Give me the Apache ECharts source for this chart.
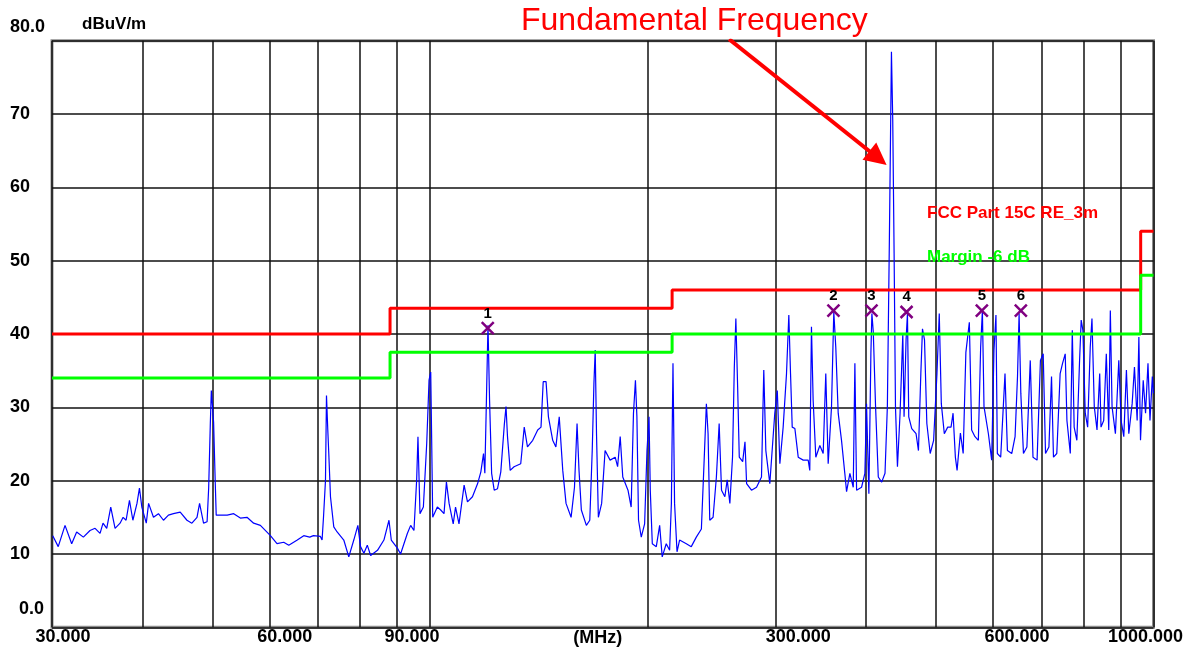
<!DOCTYPE html>
<html><head><meta charset="utf-8">
<script src="https://cdn.jsdelivr.net/npm/echarts@6/dist/echarts.min.js"></script>
<style>html,body{margin:0;padding:0;background:#fff}#c{width:1194px;height:653px}</style>
</head><body><div id="c"></div>
<script>
// ---- measured trace (frequency in MHz, level in dBuV/m) ----
const traceFreq = [30.07,30.6,31.27,31.94,32.45,33.15,33.86,34.41,34.96,35.29,35.71,36.17,36.67,37.26,37.62,37.98,38.39,38.81,39.32,39.63,39.93,40.5,40.8,41.44,42.1,42.78,43.46,44.16,45.12,46.1,46.83,47.6,47.99,48.6,49.15,49.4,49.66,49.82,50.08,50.18,50.45,50.6,52.4,53.5,54.64,55.81,57.0,58.24,60.13,61.4,62.73,63.75,65.5,66.86,68.15,68.96,70.5,70.88,71.2,71.65,71.88,72.18,72.41,72.8,73.57,74.36,75.95,77.17,78.41,79.43,80.11,80.97,81.85,82.73,84.55,86.3,87.7,88.35,90.08,91.0,92.98,93.97,94.96,95.78,96.18,96.8,97.85,98.9,99.63,100.17,100.5,100.8,102.3,103.4,104.5,105.3,106.2,107.6,108.4,109.6,111.4,112.6,114.4,116.3,117.5,118.5,119.0,119.6,120.2,120.8,121.6,122.6,123.9,125.2,126.6,127.3,127.9,129.0,130.6,133.4,134.9,136.3,138.6,140.8,142.3,143.3,144.6,145.7,147.7,149.2,150.8,152.5,154.1,156.6,158.3,159.6,160.6,161.8,164.4,166.2,167.5,168.4,169.1,169.8,170.8,172.6,174.5,177.3,180.2,181.6,183.1,184.6,187.7,189.6,191.0,192.2,193.1,194.1,195.8,197.9,199.4,200.7,201.5,202.8,205.4,207.6,209.3,212.0,214.3,215.5,216.6,217.7,219.4,221.2,226.0,229.6,233.3,237.1,239.2,240.9,242.2,243.5,246.1,248.7,250.9,252.8,255.5,257.4,259.6,261.8,263.3,264.6,266.1,267.5,270.4,272.4,273.8,278.1,282.6,287.1,289.2,291.1,294.8,299.5,301.9,304.4,307.6,310.9,313.2,314.9,316.6,319.3,322.7,327.9,333.1,334.8,336.6,338.4,341.3,345.7,349.4,352.3,355.0,358.8,361.4,363.7,366.5,370.4,374.3,376.4,380.4,384.5,386.5,388.6,394.8,399.0,401.1,404.1,406.7,408.0,409.8,412.8,416.4,420.9,425.4,428.6,431.4,434.2,436.0,437.9,439.8,442.6,446.3,450.2,452.0,454.9,456.9,458.8,463.2,469.6,473.2,476.8,479.3,482.4,486.0,491.2,496.6,501.9,505.6,508.9,513.8,519.4,524.9,528.3,532.2,535.1,540.8,545.6,550.3,556.4,560.5,566.5,572.6,576.8,580.0,583.0,591.2,597.4,601.8,605.6,608.3,614.8,623.3,628.1,636.8,643.6,648.6,651.9,655.5,661.0,668.3,675.5,681.4,690.3,697.7,703.9,709.1,716.8,722.8,727.3,735.0,742.9,748.6,755.0,759.1,767.3,772.2,776.8,783.5,790.3,794.4,798.7,804.7,810.9,817.6,822.1,828.2,835.4,842.6,846.1,853.4,860.5,867.2,871.6,876.4,885.8,895.4,902.0,909.8,917.4,924.4,934.3,941.2,949.3,954.5,959.5,967.8,975.0,982.6,988.9,996.3,1000];
const traceLevel = [12.5,11.0,13.9,11.4,13.0,12.3,13.2,13.5,12.8,14.2,13.5,16.4,13.5,14.2,15.0,14.6,17.3,14.6,16.9,19.0,16.4,14.2,16.9,15.0,15.5,14.6,15.3,15.5,15.7,14.6,14.2,15.0,16.9,14.2,14.4,19.0,27.8,32.3,32.3,28.0,19.6,15.3,15.3,15.5,14.9,15.0,14.2,13.9,12.5,11.4,11.6,11.2,11.9,12.5,12.3,12.5,12.4,11.9,15.0,20.0,31.6,26.9,23.7,17.8,13.7,13.0,11.9,9.6,11.9,13.9,11.0,10.1,11.2,9.8,10.5,11.9,14.6,11.9,10.8,10.0,12.8,13.9,13.2,20.1,26.0,15.5,16.4,25.1,33.7,34.8,24.6,15.0,16.4,16.0,15.5,19.8,16.9,14.1,16.4,14.1,19.4,17.1,17.8,19.6,21.2,23.7,21.0,31.0,41.2,31.0,21.0,18.7,18.9,21.2,27.6,30.1,26.0,21.4,21.9,22.3,27.3,24.6,25.5,26.9,27.3,33.5,33.5,28.7,25.5,24.6,28.7,21.4,16.9,15.0,19.1,27.8,21.4,16.0,13.9,14.6,24.1,33.2,37.8,26.4,15.0,16.9,24.1,22.8,23.2,21.9,26.0,20.5,18.7,16.4,29.2,33.7,28.7,14.6,12.3,14.1,24.1,28.7,18.7,11.4,11.0,13.9,9.6,11.4,10.5,16.9,36.0,16.9,10.3,11.9,11.4,11.0,12.3,13.4,22.8,30.5,26.4,14.6,15.0,20.5,27.8,18.7,17.8,20.1,16.9,23.2,35.5,42.1,32.8,23.2,22.6,25.3,19.6,18.7,19.1,20.5,35.1,24.1,19.6,29.2,32.3,22.3,27.3,34.6,42.6,34.6,27.3,27.1,23.2,22.8,22.8,21.4,41.0,31.0,23.2,24.8,23.7,34.6,22.3,30.1,43.0,38.2,29.2,25.5,21.0,18.5,21.0,19.1,36.0,18.7,19.1,21.0,30.5,18.2,37.3,42.8,40.3,30.1,20.5,19.8,21.0,30.1,53.2,78.5,69.2,51.0,30.1,21.9,29.2,40.0,28.7,39.2,42.8,28.7,27.1,26.4,24.1,34.6,40.7,39.2,27.8,23.7,25.5,34.6,42.8,30.5,26.4,27.3,27.3,29.2,23.2,21.4,26.5,23.7,37.5,41.6,26.9,26.0,25.5,38.2,43.2,30.1,26.4,22.8,37.8,42.6,23.7,23.2,34.6,24.1,23.7,26.0,34.2,42.8,31.9,23.7,24.6,36.4,23.2,22.8,36.4,37.3,23.7,24.6,34.2,23.2,23.7,34.6,36.0,37.3,28.2,23.7,40.5,27.3,25.5,36.4,41.9,40.5,29.2,27.3,38.2,42.1,30.1,26.9,34.6,27.3,28.2,37.3,26.9,43.2,30.1,26.4,36.4,28.2,26.0,35.1,26.4,30.5,35.5,28.2,39.6,25.5,33.7,29.2,36.0,28.2,34.2,31.9];

// ---- limit lines ----
const limitFreq   = [30, 88, 88, 216, 216, 960, 960, 1000];
const limitLevel  = [40, 40, 43.5, 43.5, 46, 46, 54, 54];
const marginLevel = [34, 34, 37.5, 37.5, 40, 40, 48, 48];
const limitName = 'FCC Part 15C RE_3m';
const marginName = 'Margin -6 dB';

// ---- markers ----
const markerFreq  = [120.1, 361.0, 407.5, 455.6, 579.0, 655.5];
const markerLevel = [40.8, 43.2, 43.2, 43.0, 43.2, 43.2];
const markerLabels = ['1', '2', '3', '4', '5', '6'];

// ---- axes ----
const gridFreq = [30, 40, 50, 60, 70, 80, 90, 100, 200, 300, 400, 500, 600, 700, 800, 900, 1000];
const xTickFreq = [30, 60, 90, 300, 600, 1000];
const xTickLabels = ['30.000', '60.000', '90.000', '300.000', '600.000', '1000.000'];
const yTickValues = [0, 10, 20, 30, 40, 50, 60, 70, 80];
const yTickLabels = ['0.0', '10', '20', '30', '40', '50', '60', '70', '80.0'];
const xUnit = '(MHz)';
const yUnit = 'dBuV/m';

// ---- annotation ----
const annotationText = 'Fundamental Frequency';
const arrowFrom = [259, 80.2];
const arrowTo = [416, 64.0];

const lg = Math.log10;
const pairs = (fs, ls) => fs.map((f, i) => [lg(f), ls[i]]);

// label style offsets (px)
const xLabelShift = [11, 15, 15, 23, 24, -8];
const FONT = 'Liberation Sans';
const xRich = {};
xLabelShift.forEach((s, i) => {
  xRich['s' + i] = { padding: s >= 0 ? [0, 0, 0, 2 * s] : [0, -2 * s, 0, 0],
    fontSize: 18, fontWeight: 'bold', fontFamily: FONT, color: '#000' };
});
const yRich = {
  n: { fontSize: 18, fontWeight: 'bold', fontFamily: FONT, color: '#000' },
  top: { fontSize: 18, fontWeight: 'bold', fontFamily: FONT, color: '#000', padding: [0, 0, 27, 0] },
  bot: { fontSize: 18, fontWeight: 'bold', fontFamily: FONT, color: '#000', padding: [0, 0, 37, 9] }
};

const chart = echarts.init(document.getElementById('c'), null, { renderer: 'canvas' });
chart.setOption({
  animation: false,
  backgroundColor: '#fff',
  title: {
    text: annotationText, left: 521, top: 5, padding: 0,
    textStyle: { color: '#ff0000', fontSize: 32, fontWeight: 'normal', fontFamily: FONT }
  },
  legend: {
    orient: 'vertical', left: 917, top: 200, itemGap: 27, itemWidth: 0, itemHeight: 0,
    selectedMode: false, icon: 'rect',
    textStyle: { fontSize: 17, fontWeight: 'bold', fontFamily: FONT },
    data: [
      { name: limitName, textStyle: { color: '#ff0000' } },
      { name: marginName, textStyle: { color: '#00ff00' } }
    ]
  },
  grid: {
    left: 52, right: 40.5, top: 40.7, bottom: 25.7, containLabel: false, outerBoundsMode: 'none',
    show: true, borderColor: '#8c8c8c', borderWidth: 3, backgroundColor: '#fff'
  },
  xAxis: {
    type: 'value', min: lg(30), max: 3,
    name: xUnit, nameLocation: 'middle', nameGap: 2, nameMoveOverlap: false,
    nameTextStyle: { fontSize: 18, fontWeight: 'bold', fontFamily: FONT, color: '#000',
      padding: [0, 10, 0, 0], verticalAlign: 'top' },
    axisLine: { show: false },
    axisTick: { show: false, customValues: gridFreq.map(lg) },
    splitLine: { show: true, lineStyle: { color: '#111', width: 1.5 } },
    axisLabel: {
      margin: 1, customValues: xTickFreq.map(lg),
      formatter: function (v) {
        let i = 0, best = 1e9;
        xTickFreq.forEach((f, k) => { const d = Math.abs(lg(f) - v); if (d < best) { best = d; i = k; } });
        return '{s' + i + '|' + xTickLabels[i] + '}';
      },
      rich: xRich
    }
  },
  yAxis: {
    type: 'value', min: 0, max: 80, interval: 10,
    name: yUnit, nameLocation: 'end', nameGap: 16, nameMoveOverlap: false,
    nameTextStyle: { fontSize: 17, fontWeight: 'bold', fontFamily: FONT, color: '#000',
      align: 'left', verticalAlign: 'middle', padding: [0, 0, 0, 30] },
    axisLine: { show: false },
    axisTick: { show: false },
    splitLine: { show: true, lineStyle: { color: '#111', width: 1.5 } },
    axisLabel: {
      margin: 42, align: 'left',
      formatter: function (v) {
        const i = yTickValues.indexOf(Math.round(v));
        const t = yTickLabels[i];
        if (i === yTickValues.length - 1) return '{top|' + t + '}';
        if (i === 0) return '{bot|' + t + '}';
        return '{n|' + t + '}';
      },
      rich: yRich
    }
  },
  series: [
    {
      type: 'line', name: 'Trace', data: pairs(traceFreq, traceLevel),
      showSymbol: false, symbol: 'none',
      lineStyle: { color: '#0000ff', width: 1.2 }, z: 2
    },
    {
      type: 'line', name: limitName, data: pairs(limitFreq, limitLevel),
      showSymbol: false, symbol: 'none', lineStyle: { color: '#ff0000', width: 3 }, color: '#ff0000', z: 3
    },
    {
      type: 'line', name: marginName, data: pairs(limitFreq, marginLevel),
      showSymbol: false, symbol: 'none', lineStyle: { color: '#00ff00', width: 3 }, color: '#00ff00', z: 3
    },
    {
      type: 'scatter', name: 'Markers', data: pairs(markerFreq, markerLevel),
      symbol: 'path://M0 0L10 10M10 0L0 10', symbolSize: 12, z: 4,
      itemStyle: { color: 'rgba(0,0,0,0)', borderColor: '#800080', borderWidth: 2.5, opacity: 1 },
      label: {
        show: true, position: 'top', distance: 0,
        formatter: p => markerLabels[p.dataIndex],
        color: '#000', fontSize: 15, fontWeight: 'bold', fontFamily: FONT
      }
    },
    {
      type: 'lines', name: 'Arrow', coordinateSystem: 'cartesian2d', z: 6, silent: true,
      symbol: ['none', 'triangle'], symbolSize: [18, 22],
      lineStyle: { color: '#ff0000', width: 4, opacity: 1, curveness: 0 },
      itemStyle: { color: '#ff0000' },
      data: [{ coords: [[lg(arrowFrom[0]), arrowFrom[1]], [lg(arrowTo[0]), arrowTo[1]]] }]
    }
  ]
});
</script></body></html>
